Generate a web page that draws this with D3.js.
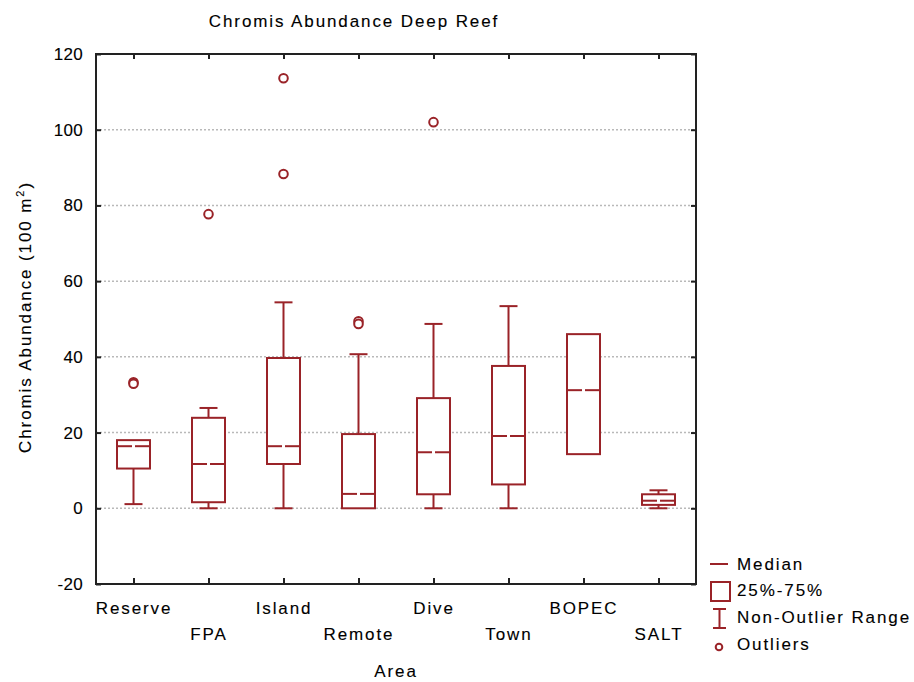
<!DOCTYPE html>
<html>
<head>
<meta charset="utf-8">
<script src="https://cdn.jsdelivr.net/npm/d3@7"></script>
<style>
  html, body { margin: 0; padding: 0; background: #fff; }
  svg { display: block; }
  text { font-family: "Liberation Sans", Arial, sans-serif; fill: #000; stroke: #000; stroke-width: 0.12px; }
</style>
</head>
<body>
<svg id="chart" width="914" height="682"></svg>
<script>
// ---- data ----
const categories = ["Reserve", "FPA", "Island", "Remote", "Dive", "Town", "BOPEC", "SALT"];
const q1Values      = [10.5, 1.6, 11.7, 0.0, 3.7, 6.3, 14.3, 0.9];
const medianValues  = [16.4, 11.7, 16.4, 3.8, 14.8, 19.1, 31.2, 2.0];
const q3Values      = [18.0, 23.9, 39.7, 19.6, 29.1, 37.6, 46.0, 3.7];
const whiskerLow    = [1.1, 0.0, 0.0, 0.0, 0.0, 0.0, 14.3, 0.0];
const whiskerHigh   = [18.0, 26.5, 54.4, 40.7, 48.7, 53.4, 46.0, 4.75];
const outlierCategory = ["Reserve", "Reserve", "FPA", "Island", "Island", "Remote", "Remote", "Dive"];
const outlierValues   = [33.3, 32.9, 77.7, 113.6, 88.3, 49.4, 48.7, 102.0];
const yTicks = [-20, 0, 20, 40, 60, 80, 100, 120];
const gridTicks = [0, 20, 40, 60, 80, 100];
const legendLabels = ["Median", "25%-75%", "Non-Outlier Range", "Outliers"];

// ---- layout ----
const svg = d3.select("#chart");
const pL = 96, pR = 696, pT = 54, pB = 584;
const red = "#9a2328";
const frameColor = "#222";
const FS = 17, LS = "1.9px";

const x = d3.scalePoint().domain(categories).range([pL, pR]).padding(0.5);
const y = d3.scaleLinear().domain([-20, 120]).range([pB, pT]);

const boxW = 33, capW = 18, medGap = 3;

// gridlines
svg.append("g").selectAll("line").data(gridTicks).join("line")
  .attr("x1", pL).attr("x2", pR)
  .attr("y1", d => y(d)).attr("y2", d => y(d))
  .attr("stroke", "#b9b9b9").attr("stroke-width", 1.5)
  .attr("stroke-dasharray", "2,2");

// axes
const axL = svg.append("g").attr("transform", `translate(${pL},0)`)
  .call(d3.axisLeft(y).tickValues(yTicks).tickFormat(d => String(d))
    .tickSizeInner(-5).tickSizeOuter(0).tickPadding(13));
const axR = svg.append("g").attr("transform", `translate(${pR},0)`)
  .call(d3.axisRight(y).tickValues(yTicks).tickSizeInner(-5).tickSizeOuter(0).tickFormat(""));
const axT = svg.append("g").attr("transform", `translate(0,${pT})`)
  .call(d3.axisTop(x).tickSizeInner(-5).tickSizeOuter(0).tickFormat(""));
const axB = svg.append("g").attr("transform", `translate(0,${pB})`)
  .call(d3.axisBottom(x).tickSizeInner(-6).tickSizeOuter(0).tickPadding(0));

[axL, axR, axT, axB].forEach(a => {
  a.select(".domain").remove();
  a.selectAll(".tick line").attr("stroke", frameColor).attr("stroke-width", 2);
});
axL.selectAll("text").attr("font-size", FS).attr("font-family", "Liberation Sans, Arial, sans-serif")
  .attr("fill", "#000").style("letter-spacing", "0.3px").attr("dx", 0);
axB.selectAll("text")
  .attr("font-size", FS).attr("font-family", "Liberation Sans, Arial, sans-serif")
  .attr("fill", "#000").style("letter-spacing", LS)
  .attr("dy", null)
  .attr("y", (d, i) => (i % 2 ? 56 : 30));

// frame
svg.append("rect").attr("x", pL).attr("y", pT)
  .attr("width", pR - pL).attr("height", pB - pT)
  .attr("fill", "none").attr("stroke", frameColor).attr("stroke-width", 2);

// boxes
const boxes = svg.append("g");
categories.forEach((c, i) => {
  const cx = x(c);
  const g = boxes.append("g");
  if (whiskerHigh[i] > q3Values[i]) {
    g.append("line").attr("x1", cx).attr("x2", cx).attr("y1", y(q3Values[i])).attr("y2", y(whiskerHigh[i]));
    g.append("line").attr("x1", cx - capW / 2).attr("x2", cx + capW / 2).attr("y1", y(whiskerHigh[i])).attr("y2", y(whiskerHigh[i]));
  }
  if (whiskerLow[i] < q1Values[i]) {
    g.append("line").attr("x1", cx).attr("x2", cx).attr("y1", y(q1Values[i])).attr("y2", y(whiskerLow[i]));
    g.append("line").attr("x1", cx - capW / 2).attr("x2", cx + capW / 2).attr("y1", y(whiskerLow[i])).attr("y2", y(whiskerLow[i]));
  }
  g.append("rect").attr("x", cx - boxW / 2).attr("y", y(q3Values[i]))
    .attr("width", boxW).attr("height", y(q1Values[i]) - y(q3Values[i]))
    .attr("fill", "#fff");
  g.append("line").attr("x1", cx - boxW / 2).attr("x2", cx - medGap / 2)
    .attr("y1", y(medianValues[i])).attr("y2", y(medianValues[i]));
  g.append("line").attr("x1", cx + medGap / 2).attr("x2", cx + boxW / 2)
    .attr("y1", y(medianValues[i])).attr("y2", y(medianValues[i]));
  g.selectAll("line, rect").attr("stroke", red).attr("stroke-width", 2);
});

// outliers
svg.append("g").selectAll("circle").data(outlierValues).join("circle")
  .attr("cx", (d, i) => x(outlierCategory[i]))
  .attr("cy", d => y(d))
  .attr("r", 4.3)
  .attr("fill", "#fff").attr("stroke", red).attr("stroke-width", 2);

// title
svg.append("text").attr("x", 354).attr("y", 27).attr("text-anchor", "middle")
  .attr("font-size", FS).style("letter-spacing", LS)
  .text("Chromis Abundance Deep Reef");

// x axis title
svg.append("text").attr("x", (pL + pR) / 2).attr("y", 677).attr("text-anchor", "middle")
  .attr("font-size", FS).style("letter-spacing", LS)
  .text("Area");

// y axis title
const yt = svg.append("text")
  .attr("transform", `translate(31,${(pT + pB) / 2 - 2}) rotate(-90)`)
  .attr("text-anchor", "middle").attr("font-size", FS).style("letter-spacing", LS);
yt.append("tspan").text("Chromis Abundance (100 m");
yt.append("tspan").attr("font-size", 11).attr("dy", -7).text("2");
yt.append("tspan").attr("dy", 7).text(")");

// legend
const lg = svg.append("g");
const lx = 710;
lg.append("line").attr("x1", lx).attr("x2", lx + 18).attr("y1", 564).attr("y2", 564);
lg.append("rect").attr("x", lx + 1).attr("y", 582).attr("width", 19).attr("height", 19).attr("fill", "#fff");
lg.append("line").attr("x1", lx + 3).attr("x2", lx + 16).attr("y1", 609).attr("y2", 609);
lg.append("line").attr("x1", lx + 9.5).attr("x2", lx + 9.5).attr("y1", 609).attr("y2", 628);
lg.append("line").attr("x1", lx + 3).attr("x2", lx + 16).attr("y1", 628).attr("y2", 628);
lg.selectAll("line, rect").attr("stroke", red).attr("stroke-width", 2);
lg.append("circle").attr("cx", lx + 9).attr("cy", 647).attr("r", 3.3)
  .attr("fill", "#fff").attr("stroke", red).attr("stroke-width", 2);
const legendY = [570, 596, 623, 650];
lg.selectAll("text").data(legendLabels).join("text")
  .attr("x", 737).attr("y", (d, i) => legendY[i])
  .attr("font-size", FS).style("letter-spacing", LS)
  .text(d => d);
</script>
</body>
</html>
